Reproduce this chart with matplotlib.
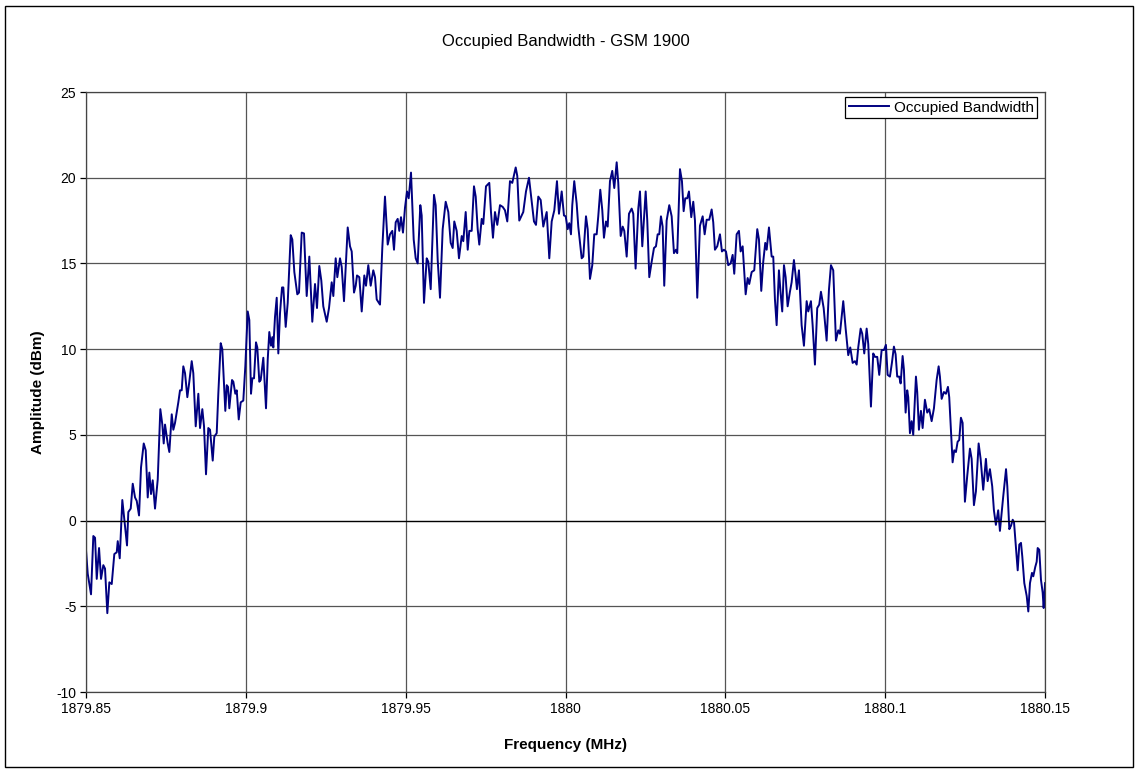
import matplotlib
matplotlib.use("Agg")
import matplotlib.pyplot as plt
from matplotlib.patches import Rectangle

plt.rcParams["font.family"] = ["Liberation Sans", "DejaVu Sans"]
plt.rcParams["axes.unicode_minus"] = False

# Trace (frequency in MHz, amplitude in dBm)
freq_mhz = [
    1879.85000, 1879.85053, 1879.85156, 1879.85228, 1879.85282, 1879.85335, 1879.85407, 1879.85469,
    1879.85541, 1879.85594, 1879.85666, 1879.85729, 1879.85804, 1879.85885, 1879.85960, 1879.85992,
    1879.86054, 1879.86135, 1879.86220, 1879.86282, 1879.86323, 1879.86398, 1879.86461, 1879.86533,
    1879.86586, 1879.86658, 1879.86720, 1879.86805, 1879.86867, 1879.86930, 1879.86980, 1879.87033,
    1879.87086, 1879.87158, 1879.87243, 1879.87324, 1879.87387, 1879.87430, 1879.87471, 1879.87555,
    1879.87606, 1879.87681, 1879.87731, 1879.87784, 1879.87887, 1879.87940, 1879.87993, 1879.88043,
    1879.88097, 1879.88169, 1879.88231, 1879.88306, 1879.88356, 1879.88431, 1879.88513, 1879.88566,
    1879.88638, 1879.88691, 1879.88753, 1879.88825, 1879.88879, 1879.88963, 1879.89013, 1879.89088,
    1879.89138, 1879.89213, 1879.89263, 1879.89357, 1879.89401, 1879.89442, 1879.89482, 1879.89567,
    1879.89608, 1879.89670, 1879.89714, 1879.89777, 1879.89839, 1879.89920, 1879.89983, 1879.90058,
    1879.90108, 1879.90161, 1879.90202, 1879.90255, 1879.90317, 1879.90358, 1879.90421, 1879.90464,
    1879.90546, 1879.90630, 1879.90684, 1879.90733, 1879.90787, 1879.90827, 1879.90859, 1879.90912,
    1879.90965, 1879.91015, 1879.91068, 1879.91131, 1879.91172, 1879.91246, 1879.91309, 1879.91403,
    1879.91453, 1879.91516, 1879.91609, 1879.91662, 1879.91747, 1879.91819, 1879.91903, 1879.91985,
    1879.92078, 1879.92163, 1879.92225, 1879.92297, 1879.92360, 1879.92422, 1879.92529, 1879.92601,
    1879.92685, 1879.92736, 1879.92810, 1879.92861, 1879.92945, 1879.92998, 1879.93070, 1879.93186,
    1879.93258, 1879.93311, 1879.93383, 1879.93436, 1879.93477, 1879.93549, 1879.93624, 1879.93705,
    1879.93758, 1879.93830, 1879.93905, 1879.93986, 1879.94040, 1879.94093, 1879.94196, 1879.94268,
    1879.94352, 1879.94437, 1879.94509, 1879.94581, 1879.94634, 1879.94687, 1879.94750, 1879.94800,
    1879.94853, 1879.94915, 1879.94978, 1879.95041, 1879.95094, 1879.95166, 1879.95250, 1879.95313,
    1879.95375, 1879.95457, 1879.95500, 1879.95572, 1879.95657, 1879.95707, 1879.95782, 1879.95885,
    1879.95938, 1879.96001, 1879.96073, 1879.96157, 1879.96251, 1879.96333, 1879.96408, 1879.96470,
    1879.96520, 1879.96595, 1879.96667, 1879.96752, 1879.96802, 1879.96877, 1879.96940, 1879.96990,
    1879.97064, 1879.97136, 1879.97190, 1879.97252, 1879.97302, 1879.97377, 1879.97427, 1879.97512,
    1879.97615, 1879.97668, 1879.97730, 1879.97793, 1879.97865, 1879.97950, 1879.98034, 1879.98106,
    1879.98178, 1879.98262, 1879.98334, 1879.98441, 1879.98491, 1879.98553, 1879.98628, 1879.98678,
    1879.98763, 1879.98857, 1879.98941, 1879.99013, 1879.99076, 1879.99148, 1879.99223, 1879.99304,
    1879.99411, 1879.99492, 1879.99567, 1879.99649, 1879.99732, 1879.99795, 1879.99880, 1879.99951,
    1880.00005, 1880.00067, 1880.00117, 1880.00170, 1880.00211, 1880.00273, 1880.00348, 1880.00399,
    1880.00505, 1880.00555, 1880.00640, 1880.00693, 1880.00765, 1880.00837, 1880.00899, 1880.00974,
    1880.01024, 1880.01087, 1880.01150, 1880.01202, 1880.01265, 1880.01318, 1880.01390, 1880.01462,
    1880.01525, 1880.01600, 1880.01650, 1880.01725, 1880.01788, 1880.01838, 1880.01913, 1880.01985,
    1880.02069, 1880.02119, 1880.02192, 1880.02276, 1880.02329, 1880.02401, 1880.02507, 1880.02557,
    1880.02620, 1880.02695, 1880.02767, 1880.02829, 1880.02882, 1880.02932, 1880.02985, 1880.03038,
    1880.03088, 1880.03163, 1880.03245, 1880.03320, 1880.03392, 1880.03455, 1880.03495, 1880.03580,
    1880.03642, 1880.03695, 1880.03745, 1880.03808, 1880.03861, 1880.03933, 1880.03996, 1880.04049,
    1880.04121, 1880.04205, 1880.04290, 1880.04352, 1880.04415, 1880.04496, 1880.04571, 1880.04621,
    1880.04674, 1880.04746, 1880.04831, 1880.04893, 1880.04956, 1880.05019, 1880.05090, 1880.05165,
    1880.05228, 1880.05278, 1880.05353, 1880.05425, 1880.05478, 1880.05541, 1880.05635, 1880.05697,
    1880.05747, 1880.05823, 1880.05904, 1880.05998, 1880.06051, 1880.06123, 1880.06185, 1880.06248,
    1880.06292, 1880.06364, 1880.06448, 1880.06498, 1880.06551, 1880.06604, 1880.06676, 1880.06729,
    1880.06779, 1880.06833, 1880.06886, 1880.06948, 1880.07020, 1880.07073, 1880.07145, 1880.07198,
    1880.07239, 1880.07302, 1880.07386, 1880.07458, 1880.07543, 1880.07593, 1880.07677, 1880.07730,
    1880.07802, 1880.07874, 1880.07937, 1880.07990, 1880.08075, 1880.08168, 1880.08240, 1880.08303,
    1880.08375, 1880.08459, 1880.08531, 1880.08584, 1880.08688, 1880.08763, 1880.08844, 1880.08907,
    1880.08982, 1880.09054, 1880.09107, 1880.09157, 1880.09232, 1880.09282, 1880.09345, 1880.09420,
    1880.09470, 1880.09554, 1880.09626, 1880.09679, 1880.09751, 1880.09814, 1880.09889, 1880.09961,
    1880.10023, 1880.10076, 1880.10148, 1880.10210, 1880.10273, 1880.10326, 1880.10376, 1880.10439,
    1880.10483, 1880.10545, 1880.10586, 1880.10639, 1880.10689, 1880.10721, 1880.10774, 1880.10827,
    1880.10877, 1880.10962, 1880.11002, 1880.11055, 1880.11118, 1880.11171, 1880.11243, 1880.11315,
    1880.11378, 1880.11453, 1880.11525, 1880.11609, 1880.11672, 1880.11712, 1880.11766, 1880.11837,
    1880.11900, 1880.11963, 1880.12003, 1880.12078, 1880.12109, 1880.12160, 1880.12213, 1880.12266,
    1880.12316, 1880.12369, 1880.12422, 1880.12494, 1880.12566, 1880.12651, 1880.12704, 1880.12776,
    1880.12838, 1880.12923, 1880.12985, 1880.13066, 1880.13151, 1880.13204, 1880.13276, 1880.13348,
    1880.13401, 1880.13463, 1880.13535, 1880.13589, 1880.13692, 1880.13780, 1880.13820, 1880.13883,
    1880.13936, 1880.13989, 1880.14030, 1880.14083, 1880.14145, 1880.14195, 1880.14248, 1880.14289,
    1880.14352, 1880.14427, 1880.14477, 1880.14529, 1880.14592, 1880.14633, 1880.14695, 1880.14739,
    1880.14770, 1880.14820, 1880.14873, 1880.14926, 1880.14957, 1880.15000,
]

amp_dbm = [
    -1.75, -3.1, -4.3, -0.9, -1.0, -3.4, -1.6, -3.4,
    -2.6, -2.8, -5.4, -3.6, -3.7, -1.95, -1.85, -1.2,
    -2.2, 1.2, -0.3, -1.45, 0.5, 0.7, 2.15, 1.35,
    1.15, 0.3, 3.1, 4.5, 4.1, 1.35, 2.8, 1.55,
    2.35, 0.7, 2.4, 6.5, 5.6, 4.5, 5.6, 4.5,
    4.0, 6.2, 5.3, 5.7, 6.9, 7.6, 7.6, 9.0,
    8.6, 7.2, 8.1, 9.3, 8.6, 5.5, 7.4, 5.4,
    6.5, 5.5, 2.7, 5.4, 5.3, 3.5, 4.9, 5.1,
    7.4, 10.35, 10.0, 6.4, 7.9, 7.8, 6.55, 8.2,
    8.1, 7.4, 7.6, 5.9, 6.9, 7.0, 9.0, 12.2,
    11.7, 7.4, 8.3, 8.3, 10.4, 10.1, 8.1, 8.2,
    9.5, 6.55, 9.4, 11.0, 10.2, 10.7, 10.1, 11.9,
    13.0, 9.75, 12.1, 13.6, 13.6, 11.3, 12.7, 16.65,
    16.4, 14.5, 13.2, 13.3, 16.8, 16.75, 13.1, 15.4,
    11.6, 13.8, 12.4, 14.85, 14.0, 12.5, 11.6, 12.4,
    13.9, 13.1, 15.3, 14.2, 15.3, 14.8, 12.8, 17.1,
    16.0, 15.7, 13.3, 13.7, 14.3, 14.2, 12.2, 14.3,
    13.7, 14.9, 13.7, 14.6, 14.2, 12.9, 12.6, 15.9,
    18.9, 16.1, 16.7, 16.9, 15.8, 17.4, 17.6, 16.9,
    17.7, 16.8, 18.25, 19.2, 18.8, 20.3, 16.4, 15.3,
    15.0, 18.4, 17.8, 12.7, 15.3, 15.1, 13.5, 19.0,
    18.4, 15.2, 13.0, 17.0, 18.6, 18.0, 16.2, 15.9,
    17.45, 16.9, 15.3, 16.6, 16.3, 18.0, 15.8, 16.9,
    16.9, 19.5, 18.9, 17.0, 16.1, 17.6, 17.3, 19.5,
    19.7, 18.0, 16.5, 18.0, 17.25, 18.4, 18.3, 18.1,
    17.45, 19.8, 19.7, 20.6, 20.1, 17.5, 17.8, 18.0,
    19.2, 20.0, 18.6, 17.45, 17.25, 18.9, 18.7, 17.15,
    18.0, 15.3, 17.45, 18.1, 19.8, 17.9, 19.2, 17.8,
    17.75, 17.0, 17.35, 16.7, 18.4, 19.8, 18.5, 17.15,
    15.3, 15.4, 17.75, 17.0, 14.1, 14.9, 16.7, 16.7,
    17.75, 19.3, 18.1, 16.5, 17.45, 17.15, 19.8, 20.4,
    19.4, 20.9, 19.7, 16.6, 17.15, 16.9, 15.4, 17.9,
    18.2, 17.9, 14.7, 18.2, 19.2, 16.0, 19.2, 17.5,
    14.2, 15.1, 15.9, 16.0, 16.7, 16.7, 17.75, 17.15,
    13.7, 17.5, 18.4, 17.75, 15.6, 15.8, 15.6, 20.5,
    19.8, 18.05, 18.8, 18.8, 19.2, 17.7, 18.6, 17.5,
    13.0, 17.2, 17.75, 16.7, 17.55, 17.55, 18.15, 17.4,
    15.8, 16.0, 16.7, 15.7, 15.8, 15.7, 14.9, 15.0,
    15.5, 14.4, 16.7, 16.9, 15.7, 16.0, 13.2, 14.15,
    13.8, 14.5, 14.6, 17.0, 16.4, 13.4, 15.1, 16.2,
    15.8, 17.1, 15.4, 15.4, 12.9, 11.4, 14.6, 13.25,
    12.2, 14.9, 14.2, 12.5, 13.35, 13.9, 15.2, 14.3,
    13.5, 14.6, 11.4, 10.2, 12.8, 12.2, 12.8, 11.4,
    9.1, 12.4, 12.6, 13.35, 12.4, 10.5, 13.45, 14.9,
    14.6, 10.5, 11.1, 10.9, 12.8, 11.2, 9.65, 10.1,
    9.2, 9.3, 9.1, 10.1, 11.2, 10.9, 9.75, 11.2,
    10.3, 6.65, 9.75, 9.55, 9.55, 8.5, 9.95, 9.95,
    10.25, 8.5, 8.4, 9.2, 10.15, 9.7, 8.4, 8.4,
    8.0, 9.6, 8.8, 6.3, 7.6, 7.2, 5.1, 5.8,
    5.0, 8.4, 7.5, 5.3, 6.4, 5.4, 7.05, 6.3,
    6.5, 5.8, 6.55, 8.2, 9.0, 8.4, 7.1, 7.5,
    7.4, 7.8, 7.2, 4.5, 3.4, 4.1, 4.0, 4.6,
    4.7, 6.0, 5.7, 1.1, 2.6, 4.2, 3.6, 0.9,
    1.7, 4.5, 3.6, 1.8, 3.6, 2.3, 3.0, 2.0,
    0.6, -0.25, 0.6, -0.6, 1.4, 3.0, 2.0, -0.5,
    -0.3, 0.05, -0.1, -1.4, -2.9, -1.4, -1.3, -2.1,
    -3.65, -4.4, -5.3, -3.65, -3.05, -3.25, -2.7, -2.4,
    -1.6, -1.7, -3.45, -4.2, -5.1, -3.65,
]

x_ticks = [1879.85, 1879.9, 1879.95, 1880.0, 1880.05, 1880.1, 1880.15]
x_labels = ["1879.85", "1879.9", "1879.95", "1880", "1880.05", "1880.1", "1880.15"]
y_ticks = [-10, -5, 0, 5, 10, 15, 20, 25]

fig = plt.figure(figsize=(11.38, 7.72), dpi=100)
fig.patches.append(Rectangle((0.0045, 0.006), 0.991, 0.986, transform=fig.transFigure,
                             fill=False, edgecolor="black", linewidth=1.0))

ax = fig.add_axes([0.0756, 0.1036, 0.8427, 0.7772])
ax.plot(freq_mhz, amp_dbm, color="#000080", linewidth=1.4, solid_joinstyle="round",
        label="Occupied Bandwidth")

ax.set_xlim(1879.85, 1880.15)
ax.set_ylim(-10, 25)
ax.set_xticks(x_ticks)
ax.set_xticklabels(x_labels)
ax.set_yticks(y_ticks)
ax.grid(True, color="#555555", linewidth=0.9)
ax.axhline(0, color="black", linewidth=0.9)
ax.set_axisbelow(True)
for s in ax.spines.values():
    s.set_linewidth(0.9)
    s.set_color("#444444")
ax.tick_params(direction="out", length=4, width=0.9, labelsize=10, pad=3)

ax.set_xlabel("Frequency (MHz)", fontsize=11, fontweight="bold", labelpad=16)
ax.set_ylabel("Amplitude (dBm)", fontsize=11, fontweight="bold", labelpad=8)
ax.set_title("Occupied Bandwidth - GSM 1900", fontsize=12, pad=33)

leg = ax.legend(loc="upper right", bbox_to_anchor=(0.992, 0.992), borderaxespad=0,
                fancybox=False, framealpha=1, edgecolor="black", fontsize=11,
                handlelength=2.6, handletextpad=0.3, borderpad=0.25)
leg.get_frame().set_linewidth(0.9)

fig.savefig("out.png", dpi=100)
